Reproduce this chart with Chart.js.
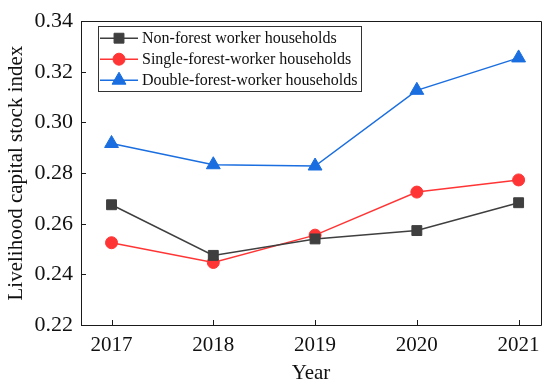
<!DOCTYPE html>
<html>
<head>
<meta charset="utf-8">
<script src="https://cdn.jsdelivr.net/npm/chart.js@4/dist/chart.umd.min.js"></script>
<style>
html,body{margin:0;padding:0;background:#fff;}
#wrap{width:550px;height:390px;position:relative;}
</style>
</head>
<body>
<div id="wrap"><canvas id="c" width="550" height="390"></canvas></div>
<script>
const years = [2017, 2018, 2019, 2020, 2021];
const nonForest = [0.2675, 0.2475, 0.2540, 0.2573, 0.2683];
const singleForest = [0.2525, 0.2447, 0.2555, 0.2725, 0.2773];
const doubleForest = [0.2917, 0.2833, 0.2828, 0.3127, 0.3255];
const seriesLabels = ['Non-forest worker households', 'Single-forest-worker households', 'Double-forest-worker households'];
const yTicks = [0.22, 0.24, 0.26, 0.28, 0.30, 0.32, 0.34];

const FONT = "'Liberation Serif', 'Times New Roman', serif";
const AXIS_COLOR = '#1a1a1a';

function pts(vals){ return years.map((y,i)=>({x:y, y:vals[i]})); }

const frameAndTicks = {
  id: 'frameAndTicks',
  afterDraw(chart){
    const {ctx, chartArea:a} = chart;
    const xs = chart.scales.x, ys = chart.scales.y;
    ctx.save();
    ctx.strokeStyle = AXIS_COLOR;
    ctx.lineWidth = 1;
    ctx.beginPath();
    ctx.rect(Math.round(a.left)+0.5, Math.round(a.top)+0.5, Math.round(a.right-a.left), Math.round(a.bottom-a.top));
    ctx.stroke();
    ctx.beginPath();
    xs.ticks.forEach(t=>{
      const p = Math.round(xs.getPixelForValue(t.value))+0.5;
      ctx.moveTo(p, a.bottom); ctx.lineTo(p, a.bottom-5);
    });
    ys.ticks.forEach(t=>{
      const p = Math.round(ys.getPixelForValue(t.value))+0.5;
      ctx.moveTo(a.left, p); ctx.lineTo(a.left+5, p);
    });
    ctx.stroke();
    ctx.restore();
  }
};

const boxLegend = {
  id: 'boxLegend',
  afterDraw(chart){
    const {ctx, chartArea:a} = chart;
    const left = a.left + 17, top = a.top + 5;
    const rowH = 21, lineLen = 38, gap = 4;
    ctx.save();
    ctx.font = "16px " + FONT;
    let maxW = 0;
    chart.data.datasets.forEach(d=>{ maxW = Math.max(maxW, ctx.measureText(d.label).width); });
    const w = 3 + lineLen + gap + maxW + 2;
    const h = rowH * chart.data.datasets.length + 2;
    ctx.fillStyle = '#fff';
    ctx.fillRect(left, top, w, h);
    ctx.strokeStyle = '#333';
    ctx.lineWidth = 1;
    ctx.strokeRect(Math.round(left)+0.5, Math.round(top)+0.5, Math.round(w), Math.round(h));
    chart.data.datasets.forEach((d,i)=>{
      const cy = top + 12 + i*rowH;
      const x0 = left + 2, x1 = x0 + lineLen;
      ctx.strokeStyle = d.borderColor;
      ctx.lineWidth = d.borderWidth;
      ctx.beginPath(); ctx.moveTo(x0, cy); ctx.lineTo(x1, cy); ctx.stroke();
      ctx.fillStyle = d.pointBackgroundColor;
      ctx.strokeStyle = d.pointBorderColor;
      ctx.lineWidth = 1;
      Chart.helpers.drawPoint(ctx, {pointStyle: d.pointStyle, radius: d.pointRadius, borderWidth: 1, rotation: 0}, (x0+x1)/2, cy);
      ctx.fillStyle = '#111';
      ctx.textBaseline = 'middle';
      ctx.textAlign = 'left';
      ctx.fillText(d.label, x1 + gap, cy + 1);
    });
    ctx.restore();
  }
};

const colors = ['#3f3f3f', '#ff3535', '#1a6edf'];
const styles = ['rect', 'circle', 'triangle'];
const radii = [7, 6, 8];
const allVals = [nonForest, singleForest, doubleForest];

new Chart(document.getElementById('c'), {
  type: 'line',
  data: {
    datasets: allVals.map((v,i)=>({
      label: seriesLabels[i],
      data: pts(v),
      borderColor: colors[i],
      backgroundColor: colors[i],
      pointBackgroundColor: colors[i],
      pointBorderColor: colors[i],
      pointStyle: styles[i],
      pointRadius: radii[i],
      pointBorderWidth: 1,
      borderWidth: 1.5,
      tension: 0,
      clip: false
    }))
  },
  options: {
    responsive: false,
    animation: false,
    devicePixelRatio: 1,
    layout: {padding: {top: 19, right: 7, left: 0, bottom: 0}},
    plugins: {legend: {display: false}, tooltip: {enabled: false}},
    scales: {
      x: {
        type: 'linear',
        min: 2016.7, max: 2021.22,
        afterBuildTicks: s => { s.ticks = years.map(v=>({value:v})); },
        afterFit: s => { s.height = 65; },
        grid: {display: false, drawTicks: false},
        border: {display: false},
        ticks: {color: '#111', font: {family: FONT, size: 21}, padding: 8, callback: v => String(v), maxRotation: 0, autoSkip: false},
        title: {display: true, text: 'Year', color: '#111', font: {family: FONT, size: 21}, padding: {top: 0, bottom: 4}}
      },
      y: {
        type: 'linear',
        min: 0.22, max: 0.34,
        afterBuildTicks: s => { s.ticks = yTicks.map(v=>({value:v})); },
        afterFit: s => { s.width = 81; },
        grid: {display: false, drawTicks: false},
        border: {display: false},
        ticks: {color: '#111', font: {family: FONT, size: 22}, padding: 8, callback: v => Number(v).toFixed(2), autoSkip: false},
        title: {display: true, text: 'Livelihood capital stock index', color: '#111', font: {family: FONT, size: 21}, padding: {top: 4, bottom: 0}}
      }
    }
  },
  plugins: [frameAndTicks, boxLegend]
});
</script>
</body>
</html>
